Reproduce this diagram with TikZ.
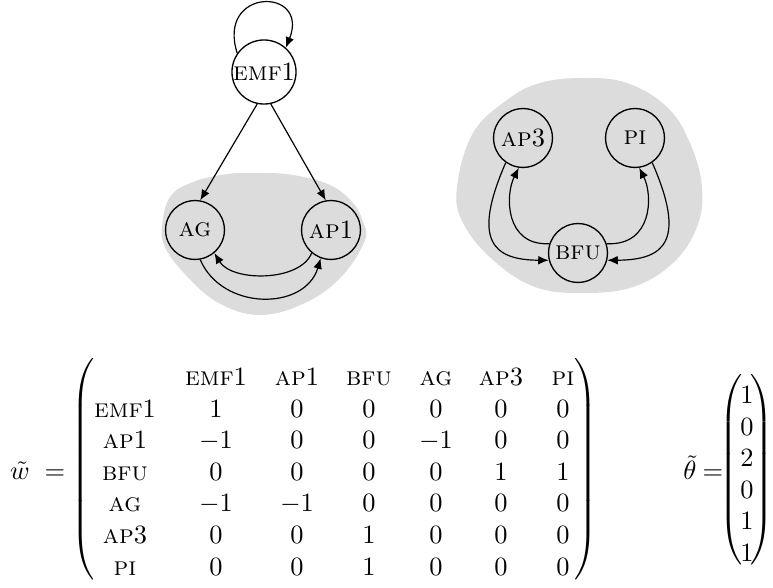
\documentclass[tikz,border=0pt]{standalone}
\usepackage{amsmath}
\usetikzlibrary{arrows.meta}
\definecolor{blobgray}{RGB}{220,220,220}
\begin{document}
\begin{tikzpicture}[x=0.3788pt,y=-0.3788pt,
  state/.style={circle,draw,line width=0.5pt,minimum size=22.3pt,inner sep=0pt},
  edge/.style={-{Latex[length=4pt,width=3.3pt]},line width=0.45pt},
  ent/.style={anchor=base,inner sep=0pt},
  par/.style={inner sep=0pt}]
\useasboundingbox (0,0) rectangle (773,588);
% gray blobs
\fill[blobgray] plot[smooth cycle,tension=0.65] coordinates {(260,173) (293,175) (330,185) (353,203) (363,222) (365,240) (343,275) (307,302) (260,315) (217,302) (183,272) (165,247) (162,227) (170,197) (193,182) (228,174)};
\fill[blobgray] plot[smooth cycle,tension=0.65] coordinates {(583,78) (627,83) (667,107) (690,143) (702,187) (697,227) (673,263) (633,287) (583,293) (535,287) (493,260) (463,223) (457,187) (473,133) (507,100) (540,83)};
% nodes
\node[state] (emf) at (264,72) {\textsc{emf}1};
\node[state] (ag) at (195,230) {\textsc{ag}};
\node[state] (ap1) at (331,230) {\textsc{ap}1};
\node[state] (ap3) at (523,138) {\textsc{ap}3};
\node[state] (pi) at (635,138) {\textsc{pi}};
\node[state] (bfu) at (578,253) {\textsc{bfu}};
% edges
\draw[edge] (emf.145) .. controls (216,-13) and (310,-13) .. (emf.48);
\draw[edge] (emf.258) -- (ag.80);
\draw[edge] (emf.282) -- (ap1.100);
\draw[edge] (ap1.230) .. controls (300,282) and (232,282) .. (ag.310);
\draw[edge] (ag.280) .. controls (222,311) and (305,311) .. (ap1.250);
\draw[edge] (ap3.235) .. controls (472,240) and (492,260) .. (bfu.194);
\draw[edge] (bfu.162) .. controls (505,246) and (505,195) .. (ap3.262);
\draw[edge] (pi.305) .. controls (686,240) and (666,260) .. (bfu.346);
\draw[edge] (bfu.18) .. controls (653,246) and (653,195) .. (pi.278);
% matrix w
\node[ent] (wl) at (20,480) {$\tilde w$};
\node[ent] (weq) at (55,480) {$=$};
\node[par,anchor=east] (lp) at (95,472.5) {$\left(\vrule height 42pt depth 42pt width 0pt\right.\kern-\nulldelimiterspace$};
\node[par,anchor=west] (rp) at (574,472.5) {$\kern-\nulldelimiterspace\left.\vrule height 42pt depth 42pt width 0pt\right)$};
\foreach \t [count=\i] in {\textsc{emf}1,\textsc{ap}1,\textsc{bfu},\textsc{ag},\textsc{ap}3,\textsc{pi}}{
  \pgfmathsetmacro{\cx}{{216,297,369,436,501,563}[\i-1]}
  \node[ent] (h\i) at (\cx,385.5) {\t};
}
\foreach \t [count=\i] in {\textsc{emf}1,\textsc{ap}1,\textsc{bfu},\textsc{ag},\textsc{ap}3,\textsc{pi}}{
  \node[ent] (r\i) at (125,385.5+31.6*\i) {\t};
}
\foreach \row [count=\i] in {{1,0,0,0,0,0},{-1,0,0,-1,0,0},{0,0,0,0,1,1},{-1,-1,0,0,0,0},{0,0,1,0,0,0},{0,0,1,0,0,0}}{
  \foreach \v [count=\j] in \row {
    \pgfmathsetmacro{\cx}{{216,297,369,436,501,563}[\j-1]}
    \node[ent] (m\i\j) at (\cx,385.5+31.6*\i) {$\v$};
  }
}
% theta
\node[ent] (tl) at (690,480) {$\tilde\theta$};
\node[ent] (teq) at (713,480) {$=$};
\node[par,anchor=east] (tlp) at (743,473) {$\left(\vrule height 36pt depth 36pt width 0pt\right.\kern-\nulldelimiterspace$};
\node[par,anchor=west] (trp) at (750,473) {$\kern-\nulldelimiterspace\left.\vrule height 36pt depth 36pt width 0pt\right)$};
\foreach \v [count=\i] in {1,0,2,0,1,1}{
  \node[ent] (t\i) at (747,371.9+31.6*\i) {$\v$};
}
\end{tikzpicture}
\end{document}
